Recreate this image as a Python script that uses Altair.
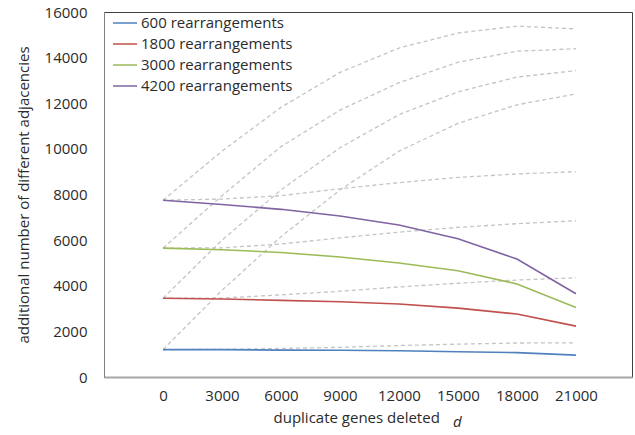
import altair as alt
import pandas as pd

x_vals = [0, 3000, 6000, 9000, 12000, 15000, 18000, 21000]
series_names = ["600 rearrangements", "1800 rearrangements",
                "3000 rearrangements", "4200 rearrangements"]
series_colors = ["#4F81BD", "#C0504D", "#9BBB59", "#8064A2"]

# solid series
r600 = [1200, 1200, 1180, 1170, 1150, 1110, 1070, 960]
r1800 = [3450, 3420, 3360, 3300, 3200, 3020, 2760, 2230]
r3000 = [5650, 5580, 5460, 5260, 5000, 4660, 4080, 3050]
r4200 = [7750, 7560, 7350, 7060, 6660, 6060, 5170, 3650]

# dashed grey guide curves (steep)
s600 = [1200, 3800, 6150, 8200, 9900, 11120, 11930, 12410]
s1800 = [3450, 6000, 8200, 10050, 11500, 12500, 13150, 13430]
s3000 = [5650, 7950, 10100, 11700, 12900, 13800, 14280, 14390]
s4200 = [7750, 9900, 11820, 13350, 14420, 15080, 15380, 15260]
# dashed grey guide curves (flat)
f600 = [1200, 1210, 1250, 1300, 1380, 1440, 1490, 1500]
f1800 = [3450, 3460, 3600, 3760, 3950, 4110, 4250, 4350]
f3000 = [5650, 5660, 5830, 6100, 6350, 6560, 6720, 6850]
f4200 = [7750, 7800, 7950, 8250, 8520, 8750, 8900, 9000]

y_ticks = [0, 2000, 4000, 6000, 8000, 10000, 12000, 14000, 16000]

rows = []
for name, vals in zip(series_names, [r600, r1800, r3000, r4200]):
    for x, v in zip(x_vals, vals):
        rows.append({"d": x, "value": v, "series": name})
solid = pd.DataFrame(rows)

drows = []
for i, vals in enumerate([s600, s1800, s3000, s4200, f600, f1800, f3000, f4200]):
    for x, v in zip(x_vals, vals):
        drows.append({"d": x, "value": v, "guide": "g%d" % i})
dashed = pd.DataFrame(drows)

FONT = "Open Sans"
TXT = "#2b2b2b"
FS = 15

xscale = alt.Scale(domain=[-3000, 23850], nice=False, zero=False)
yscale = alt.Scale(domain=[0, 16000], nice=False)

xaxis = alt.Axis(values=x_vals, format="d", title="duplicate genes deleted",
                 titleAlign="left", titleAnchor="start", titleX=169,
                 ticks=False, tickSize=0, grid=False, labelPadding=11,
                 titlePadding=7, domainColor="#a6a6a6", domainWidth=2)
yaxis = alt.Axis(values=y_ticks, format="d",
                 title="additional number of different adjacencies",
                 ticks=False, tickSize=0, grid=False, labelPadding=17,
                 titlePadding=13, domainColor="#808080", domainWidth=1)

guides = alt.Chart(dashed).mark_line(
    color="#c4c4c4", strokeWidth=1.3, strokeDash=[4, 3]
).encode(
    x=alt.X("d:Q", scale=xscale, axis=xaxis),
    y=alt.Y("value:Q", scale=yscale, axis=yaxis),
    detail="guide:N",
)

lines = alt.Chart(solid).mark_line(strokeWidth=1.6).encode(
    x=alt.X("d:Q", scale=xscale),
    y=alt.Y("value:Q", scale=yscale),
    color=alt.Color(
        "series:N",
        scale=alt.Scale(domain=series_names, range=series_colors),
        sort=series_names,
        legend=alt.Legend(
            title=None, orient="none", legendX=8, legendY=-2,
            symbolType="stroke", symbolSize=576, symbolStrokeWidth=1.5,
            labelFontSize=FS, labelFont=FONT, labelColor=TXT,
            labelOffset=3, rowPadding=0, padding=0,
        ),
    ),
)

italic_d = alt.Chart(pd.DataFrame({"t": ["d"]})).mark_text(
    font=FONT, fontSize=FS, fontStyle="italic", color=TXT,
    align="left", baseline="middle"
).encode(text="t:N", x=alt.value(349), y=alt.value(410))

chart = alt.layer(guides, lines, italic_d).properties(
    width=528, height=365,
    padding={"left": 104, "top": 12, "right": 3, "bottom": 58},
    autosize=alt.AutoSizeParams(type="none"),
    background="white",
).configure_view(
    stroke="#404040", strokeWidth=1
).configure_axis(
    labelFont=FONT, labelFontSize=FS, labelColor=TXT,
    titleFont=FONT, titleFontSize=FS, titleColor=TXT, titleFontWeight="normal",
)

chart.save("out.html", embed_options={"renderer": "svg", "actions": False})
